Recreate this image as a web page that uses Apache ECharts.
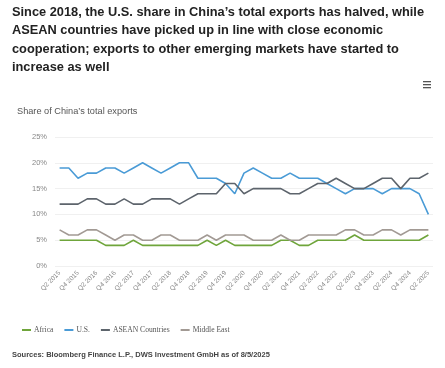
<!DOCTYPE html>
<html><head><meta charset="utf-8">
<script src="https://cdn.jsdelivr.net/npm/echarts@6/dist/echarts.min.js"></script>
<style>html,body{margin:0;padding:0;background:#fff}#c{width:445px;height:368px}</style>
</head><body><div id="c"></div>
<script>
const categories = [];
(function(){ const q=['Q1','Q2','Q3','Q4']; let y=2015, k=1; for(let i=0;i<41;i++){ categories.push(q[k]+' '+y); k++; if(k>3){k=0;y++;} } })();
const africa = [5,5,5,5,5,4,4,4,5,4,4,4,4,4,4,4,5,4,5,4,4,4,4,4,5,5,4,4,5,5,5,5,6,5,5,5,5,5,5,5,6];
const us = [19,19,17,18,18,19,19,18,19,20,19,18,19,20,20,17,17,17,16,14,18,19,18,17,17,18,17,17,17,16,15,14,15,15,15,14,15,15,15,14,10];
const asean = [12,12,12,13,13,12,12,13,12,12,13,13,13,12,13,14,14,14,16,16,14,15,15,15,15,14,14,15,16,16,17,16,15,15,16,17,17,15,17,17,18];
const middleEast = [7,6,6,7,7,6,5,6,6,5,5,6,6,5,5,5,6,5,6,6,6,5,5,5,6,5,5,6,6,6,6,7,7,6,6,7,7,6,7,7,7];
const yTicks = [0,5,10,15,20,25];

const chart = echarts.init(document.getElementById('c'));
const mk = (name, data, color) => ({name, type:'line', data, symbol:'none', lineStyle:{width:1.6, color}, itemStyle:{color}});
chart.setOption({
  animation:false,
  title:[{
    text:"Since 2018, the U.S. share in China’s total exports has halved, while\nASEAN countries have picked up in line with close economic\ncooperation; exports to other emerging markets have started to\nincrease as well",
    left:12, top:3, padding:0,
    textStyle:{fontFamily:'Liberation Sans', fontWeight:'bold', fontSize:12.8, lineHeight:18.4, color:'#222'}
  },{
    text:"Share of China’s total exports", left:17, top:107, padding:0,
    textStyle:{fontFamily:'Liberation Sans', fontWeight:'normal', fontSize:9.2, color:'#555'}
  },{
    text:"Sources: Bloomberg Finance L.P., DWS Investment GmbH as of 8/5/2025", left:12, top:351, padding:0,
    textStyle:{fontFamily:'Liberation Sans', fontWeight:'bold', fontSize:7.5, color:'#444'}
  }],
  graphic:[
    {type:'rect', shape:{x:423,y:81,width:8,height:1.3}, style:{fill:'#555'}},
    {type:'rect', shape:{x:423,y:84,width:8,height:1.3}, style:{fill:'#555'}},
    {type:'rect', shape:{x:423,y:87,width:8,height:1.3}, style:{fill:'#555'}}
  ],
  legend:{
    left:22, top:326, padding:0, itemGap:11, itemWidth:9, itemHeight:2, icon:'rect',
    textStyle:{fontFamily:'Liberation Serif', fontSize:7.6, color:'#555', padding:[0,0,0,-2]},
    data:['Africa','U.S.','ASEAN Countries','Middle East']
  },
  grid:{left:55, right:12, top:137, bottom:102, containLabel:false},
  xAxis:{
    type:'category', data:categories, boundaryGap:['1%','1%'],
    axisLine:{show:false}, axisTick:{show:false},
    axisLabel:{interval:1, rotate:45, fontSize:6.5, color:'#888', fontFamily:'Liberation Sans', margin:6}
  },
  yAxis:{
    type:'value', min:0, max:25, interval:5,
    axisLabel:{formatter:'{value}%', fontSize:7.5, color:'#888', fontFamily:'Liberation Sans', margin:8},
    splitLine:{lineStyle:{color:'#f0f0f0', width:1}},
    axisLine:{show:false}, axisTick:{show:false}
  },
  series:[
    mk('Africa', africa, '#6fa53b'),
    mk('U.S.', us, '#4a9bd6'),
    mk('ASEAN Countries', asean, '#5d646c'),
    mk('Middle East', middleEast, '#a29a94')
  ]
});
</script></body></html>
